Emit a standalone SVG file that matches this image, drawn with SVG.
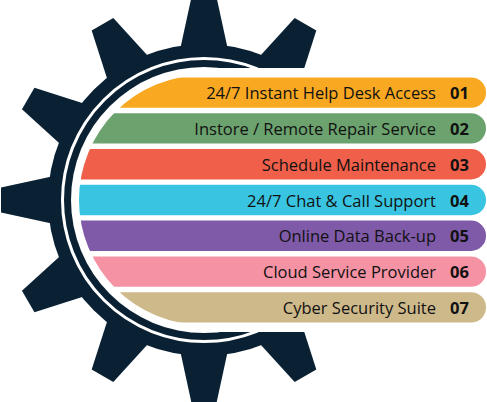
<svg xmlns="http://www.w3.org/2000/svg" width="487" height="402" viewBox="0 0 487 402">
<style>
.gear{fill:#0a2134}
.lbl{font-family:"Open Sans","Noto Sans",sans-serif;font-size:16.5px;fill:#111;text-anchor:end}
.num{font-family:"Open Sans","Noto Sans",sans-serif;font-size:16.5px;font-weight:bold;fill:#111}
</style>
<defs>
<polygon id="tooth" points="-24,-150 -12.5,-203 12.5,-203 24,-150"/>
<clipPath id="barclip">
<circle cx="204" cy="200" r="125"/>
<rect x="204" y="0" width="283" height="402"/>
</clipPath>
</defs>
<g id="gear" class="gear">
<circle cx="204" cy="200" r="156"/>
<g transform="translate(204,200)">
<use href="#tooth" transform="rotate(0)"/>
<use href="#tooth" transform="rotate(30)"/>
<use href="#tooth" transform="rotate(60)"/>
<use href="#tooth" transform="rotate(90)"/>
<use href="#tooth" transform="rotate(120)"/>
<use href="#tooth" transform="rotate(150)"/>
<use href="#tooth" transform="rotate(180)"/>
<use href="#tooth" transform="rotate(210)"/>
<use href="#tooth" transform="rotate(240)"/>
<use href="#tooth" transform="rotate(270)"/>
<use href="#tooth" transform="rotate(300)"/>
<use href="#tooth" transform="rotate(330)"/>
</g>
</g>
<circle cx="204" cy="200" r="141.5" fill="none" stroke="#fff" stroke-width="3"/>
<circle cx="204" cy="200" r="133" fill="#fff"/>
<rect x="204" y="68" width="283" height="264" fill="#fff"/>
<g clip-path="url(#barclip)">
<g id="bar1"><rect x="60" y="77.4" width="426" height="30.4" rx="15" fill="#f9a822"/></g>
<g id="bar2"><rect x="60" y="113.2" width="426" height="30.4" rx="15" fill="#6ba26e"/></g>
<g id="bar3"><rect x="60" y="149" width="426" height="30.4" rx="15" fill="#ef5f4a"/></g>
<g id="bar4"><rect x="60" y="184.8" width="426" height="30.4" rx="15" fill="#39c5e1"/></g>
<g id="bar5"><rect x="60" y="220.6" width="426" height="30.4" rx="15" fill="#7f5aa8"/></g>
<g id="bar6"><rect x="60" y="256.4" width="426" height="30.4" rx="15" fill="#f593a4"/></g>
<g id="bar7"><rect x="60" y="292.2" width="426" height="30.4" rx="15" fill="#ceb98b"/></g>
</g>
<g id="labels">
<text class="lbl" x="436" y="99.2">24/7 Instant Help Desk Access</text><text class="num" x="450" y="99.2">01</text>
<text class="lbl" x="436" y="135">Instore / Remote Repair Service</text><text class="num" x="450" y="135">02</text>
<text class="lbl" x="436" y="170.8">Schedule Maintenance</text><text class="num" x="450" y="170.8">03</text>
<text class="lbl" x="436" y="206.6">24/7 Chat &amp; Call Support</text><text class="num" x="450" y="206.6">04</text>
<text class="lbl" x="436" y="242.4">Online Data Back-up</text><text class="num" x="450" y="242.4">05</text>
<text class="lbl" x="436" y="278.2">Cloud Service Provider</text><text class="num" x="450" y="278.2">06</text>
<text class="lbl" x="436" y="314">Cyber Security Suite</text><text class="num" x="450" y="314">07</text>
</g>
</svg>
